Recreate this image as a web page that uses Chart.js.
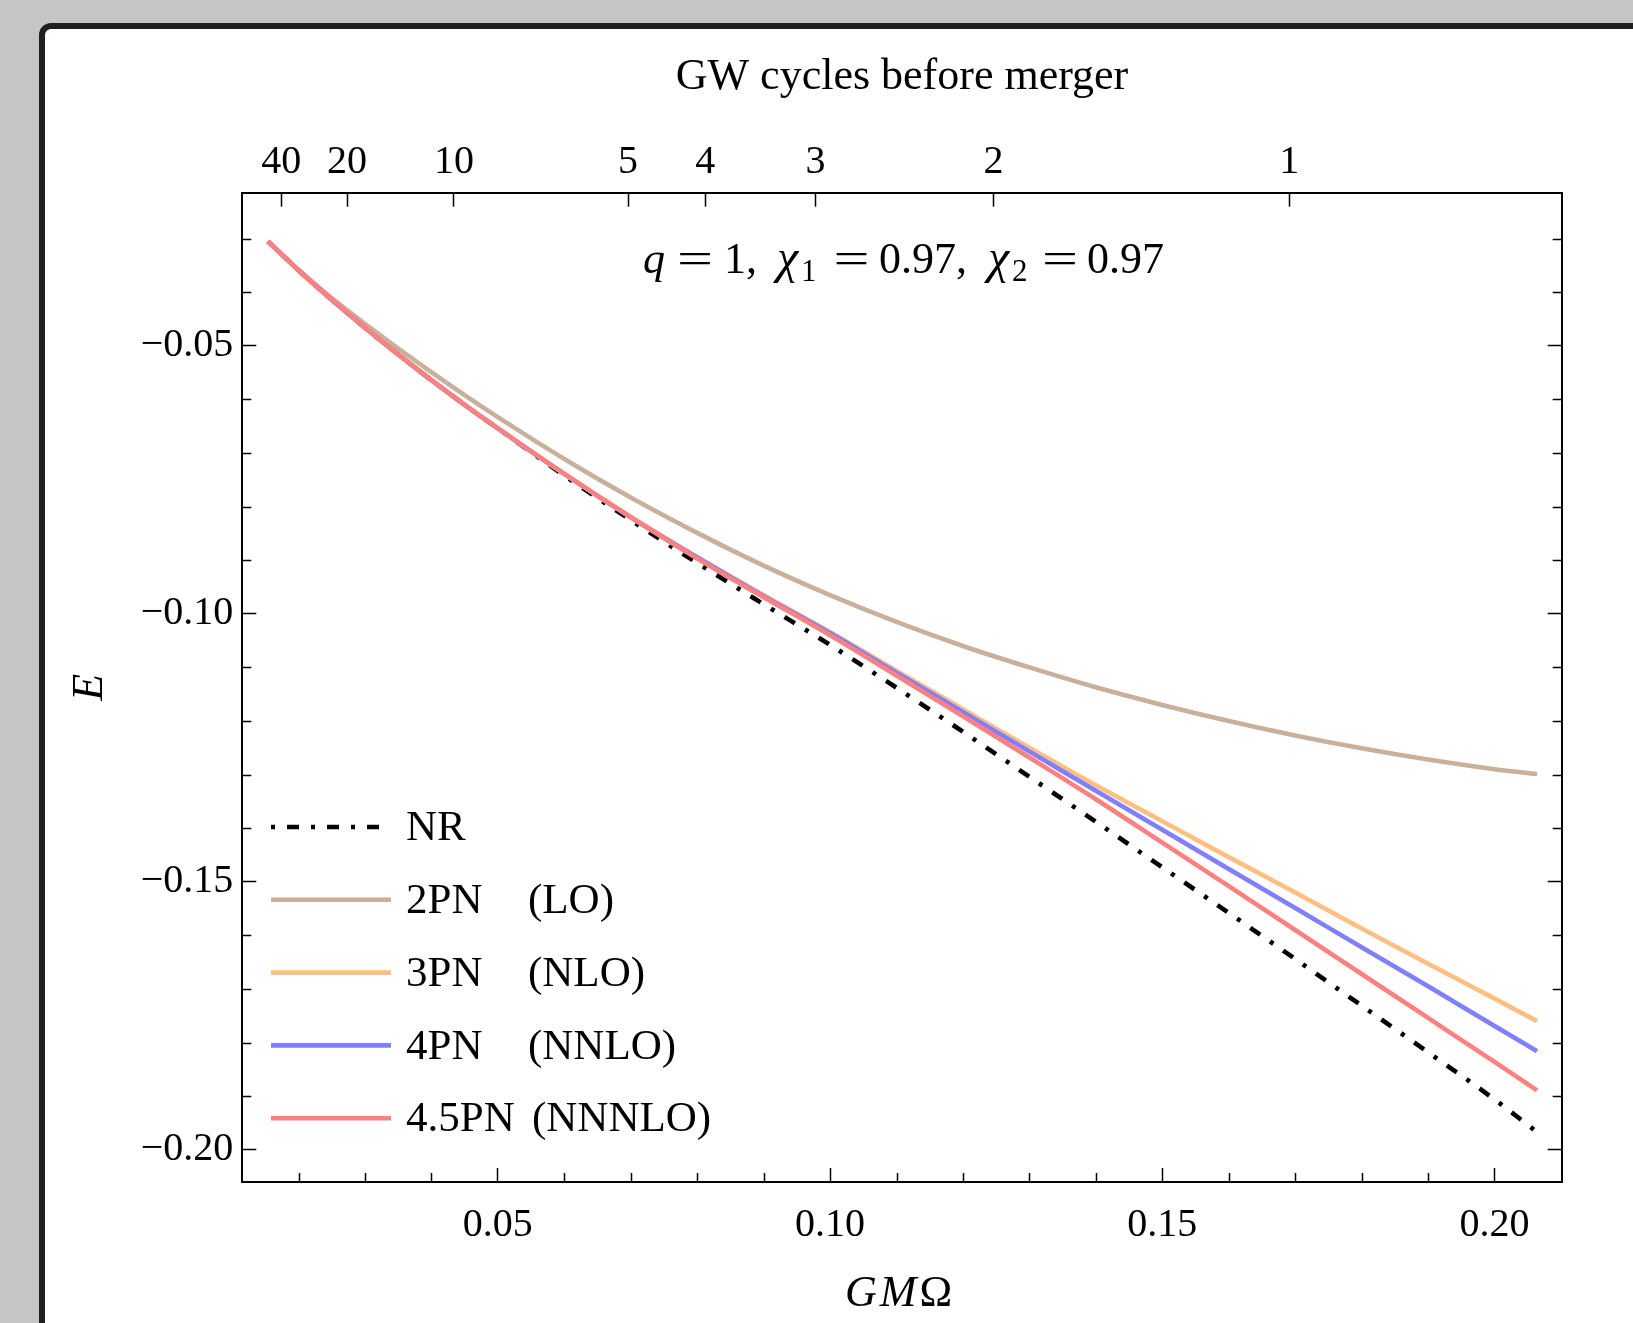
<!DOCTYPE html>
<html>
<head>
<meta charset="utf-8">
<script src="https://cdn.jsdelivr.net/npm/chart.js@4.4.0/dist/chart.umd.min.js"></script>
<style>
  html,body{margin:0;padding:0;background:#c4c5c4;overflow:hidden;}
  body{width:1633px;height:1323px;position:relative;}
  .tarjeta{position:absolute;left:39px;top:23px;width:1700px;height:1400px;border:6px solid #231f20;border-radius:12px;background:#fff;}
  canvas{position:absolute;left:0;top:0;}
</style>
</head>
<body>
<div class="tarjeta"></div>
<canvas id="miGrafica" width="1633" height="1323"></canvas>
<script>
//Datos de la grafica (GM Omega, E)
const frecuencia=[0.0154,0.02,0.025,0.03,0.035,0.04,0.045,0.05,0.06,0.07,0.08,0.09,0.10,0.11,0.12,0.13,0.14,0.15,0.16,0.17,0.18,0.19,0.20,0.2064];
const energiaNR=[-0.0305,-0.0359,-0.0414,-0.0466,-0.0516,-0.0564,-0.0610,-0.0654,-0.0742,-0.0825,-0.0905,-0.0982,-0.1058,-0.1138,-0.1220,-0.1304,-0.1388,-0.1473,-0.1558,-0.1644,-0.1731,-0.1818,-0.1906,-0.1967];
const energia2PN=[-0.0305,-0.0358,-0.0411,-0.0459,-0.0505,-0.0549,-0.0592,-0.0633,-0.0711,-0.0783,-0.0849,-0.0910,-0.0965,-0.1015,-0.1060,-0.1100,-0.1137,-0.1170,-0.1200,-0.1227,-0.1251,-0.1272,-0.1290,-0.1299];
const energia3PN=[-0.0305,-0.0359,-0.0414,-0.0466,-0.0516,-0.0564,-0.0610,-0.0654,-0.0739,-0.0819,-0.0894,-0.0965,-0.1034,-0.1106,-0.1178,-0.1250,-0.1320,-0.1387,-0.1454,-0.1520,-0.1587,-0.1653,-0.1718,-0.1760];
const energia4PN=[-0.0305,-0.0359,-0.0414,-0.0466,-0.0516,-0.0564,-0.0610,-0.0654,-0.0739,-0.0820,-0.0895,-0.0967,-0.1036,-0.1110,-0.1183,-0.1257,-0.1330,-0.1403,-0.1476,-0.1549,-0.1622,-0.1695,-0.1769,-0.1816];
const energia45PN=[-0.0305,-0.0359,-0.0414,-0.0466,-0.0516,-0.0564,-0.0610,-0.0654,-0.0739,-0.0820,-0.0897,-0.0969,-0.1040,-0.1115,-0.1191,-0.1268,-0.1346,-0.1427,-0.1508,-0.1590,-0.1672,-0.1754,-0.1836,-0.1889];

//Eje superior: ciclos GW antes de la fusion
const ciclosEtiquetas=['40','20','10','5','4','3','2','1'];
const ciclosFrecuencia=[0.0174,0.0273,0.0434,0.0696,0.0812,0.0978,0.1246,0.1691];

const ticksX=[0.05,0.10,0.15,0.20];
const ticksY=[-0.20,-0.15,-0.10,-0.05];

const nombres=['NR','2PN','3PN','4PN','4.5PN'];
const ordenes=['','(LO)','(NLO)','(NNLO)','(NNNLO)'];
const colores=['#000000','#c8b09a','#ffbf80','#8080ff','#ff8080'];

const fuente='"Liberation Serif", "DejaVu Serif", serif';

const serie=(valores)=>frecuencia.map((f,i)=>({x:f,y:valores[i]}));

//marcas menores cada 0.01
const menoresX=[];
for(let i=2;i<=20;i++){ if(i%5!==0) menoresX.push(i/100) }
const menoresY=[];
for(let i=3;i<=20;i++){ if(i%5!==0) menoresY.push(-i/100) }

const marcasMenores={
    id:'marcasMenores',
    afterDraw(chart){
        const {ctx,chartArea:{left,right,bottom},scales:{x,y}}=chart;
        ctx.save();
        ctx.strokeStyle='#000';
        ctx.lineWidth=1.5;
        ctx.beginPath();
        menoresX.forEach(v=>{
            const px=Math.round(x.getPixelForValue(v))+0.5;
            ctx.moveTo(px,bottom);ctx.lineTo(px,bottom-9);
        });
        menoresY.forEach(v=>{
            const py=Math.round(y.getPixelForValue(v))+0.5;
            ctx.moveTo(left,py);ctx.lineTo(left+9,py);
            ctx.moveTo(right,py);ctx.lineTo(right-9,py);
        });
        ctx.stroke();
        ctx.restore();
    }
};

const leyenda={
    id:'leyenda',
    afterDraw(chart){
        const ctx=chart.ctx;
        ctx.save();
        ctx.font='43px '+fuente;
        ctx.textBaseline='middle';
        ctx.fillStyle='#000';
        chart.data.datasets.forEach((ds,i)=>{
            const yy=827+i*72.8;
            ctx.strokeStyle=ds.borderColor;
            ctx.lineWidth=ds.borderWidth;
            ctx.lineCap='butt';
            ctx.setLineDash(ds.borderDash||[]);
            ctx.lineDashOffset=ds.borderDash?24:0;
            ctx.beginPath();
            ctx.moveTo(271,yy);ctx.lineTo(391,yy);
            ctx.stroke();
            ctx.setLineDash([]);
            ctx.fillText(nombres[i],406,yy+2);
            if(ordenes[i]) ctx.fillText(ordenes[i],i===4?532:528,yy+2);
        });
        ctx.restore();
    }
};

//textos con cursiva y subindices
const textos={
    id:'textos',
    afterDraw(chart){
        const ctx=chart.ctx;
        ctx.save();
        ctx.fillStyle='#000';
        ctx.textBaseline='alphabetic';
        const normal='44px '+fuente, cursiva='italic 44px '+fuente, griega='italic 48px '+fuente, sub='31px '+fuente;
        const base=273;
        const igual=(cx)=>{
            ctx.save();ctx.font=normal;ctx.textAlign='center';
            ctx.translate(cx,base);ctx.scale(1.45,1);ctx.fillText('=',0,0);
            ctx.restore();
        };
        const chi=(px,indice)=>{
            ctx.font=griega;ctx.fillText('\u03c7',px,base);
            const w=ctx.measureText('\u03c7').width;
            ctx.font=sub;ctx.fillText(indice,px+w+3,base+8);
        };
        ctx.font=cursiva;ctx.fillText('q',643,base);
        igual(695);
        ctx.font=normal;ctx.fillText('1,',724,base);
        chi(777,'1');
        igual(851.5);
        ctx.font=normal;ctx.fillText('0.97,',879,base);
        chi(988,'2');
        igual(1060);
        ctx.font=normal;ctx.fillText('0.97',1087,base);
        //etiqueta eje x
        let px=845;
        [['G',cursiva],['M',cursiva],['\u03a9',normal]].forEach(([t,f])=>{
            ctx.font=f;ctx.fillText(t,px,1306);px+=ctx.measureText(t).width+3;
        });
        ctx.restore();
    }
};

const ctx=document.getElementById('miGrafica');

const ejeComun={
    type:'linear',
    grid:{drawOnChartArea:false,drawTicks:true,tickLength:-14,tickWidth:1.5,tickColor:'#000'},
    border:{display:true,color:'#000',width:2}
};

new Chart(ctx,{
    type:'line',
    data:{
        datasets:[
            {label:'NR',data:serie(energiaNR),borderColor:colores[0],borderWidth:4.6,borderDash:[12,12,4,12],order:5,xAxisID:'x',yAxisID:'y'},
            {label:'2PN (LO)',data:serie(energia2PN),borderColor:colores[1],borderWidth:4.6,order:4,xAxisID:'x',yAxisID:'y'},
            {label:'3PN (NLO)',data:serie(energia3PN),borderColor:colores[2],borderWidth:4.6,order:3,xAxisID:'x',yAxisID:'y'},
            {label:'4PN (NNLO)',data:serie(energia4PN),borderColor:colores[3],borderWidth:4.6,order:2,xAxisID:'x',yAxisID:'y'},
            {label:'4.5PN (NNNLO)',data:serie(energia45PN),borderColor:colores[4],borderWidth:4.6,order:1,xAxisID:'x',yAxisID:'y'}
        ]
    },
    options:{
        responsive:false,
        animation:false,
        layout:{padding:0,autoPadding:false},
        elements:{
            point:{radius:0},
            line:{cubicInterpolationMode:'monotone',borderCapStyle:'butt',borderJoinStyle:'round'}
        },
        plugins:{legend:{display:false},tooltip:{enabled:false}},
        scales:{
            x:{...ejeComun,position:'bottom',min:0.01154,max:0.21011,
                afterBuildTicks:a=>{a.ticks=ticksX.map(v=>({value:v}))},
                afterFit:s=>{s.height=141},
                ticks:{autoSkip:false,maxRotation:0,padding:33,color:'#000',font:{family:fuente,size:40},callback:v=>v.toFixed(2)}
            },
            x2:{...ejeComun,position:'top',min:0.01154,max:0.21011,
                afterBuildTicks:a=>{a.ticks=ciclosFrecuencia.map(v=>({value:v}))},
                afterFit:s=>{s.height=192.7},
                ticks:{autoSkip:false,maxRotation:0,padding:20,color:'#000',font:{family:fuente,size:40},callback:(v,i)=>ciclosEtiquetas[i]},
                title:{display:true,text:'GW cycles before merger',color:'#000',font:{family:fuente,size:44},padding:{top:51,bottom:0}}
            },
            y:{...ejeComun,position:'left',min:-0.20601,max:-0.02143,
                afterBuildTicks:a=>{a.ticks=ticksY.map(v=>({value:v}))},
                afterFit:s=>{s.width=242.3},
                ticks:{padding:23,color:'#000',font:{family:fuente,size:40},callback:v=>'\u2212'+Math.abs(v).toFixed(2)},
                title:{display:true,text:'E',color:'#000',font:{family:fuente,size:44,style:'italic'},padding:{top:64,bottom:0}}
            },
            y2:{...ejeComun,position:'right',min:-0.20601,max:-0.02143,
                afterBuildTicks:a=>{a.ticks=ticksY.map(v=>({value:v}))},
                afterFit:s=>{s.width=71.3},
                ticks:{color:'#000',font:{family:fuente,size:40},callback:()=>''}
            }
        }
    },
    plugins:[marcasMenores,leyenda,textos]
});
</script>
</body>
</html>
